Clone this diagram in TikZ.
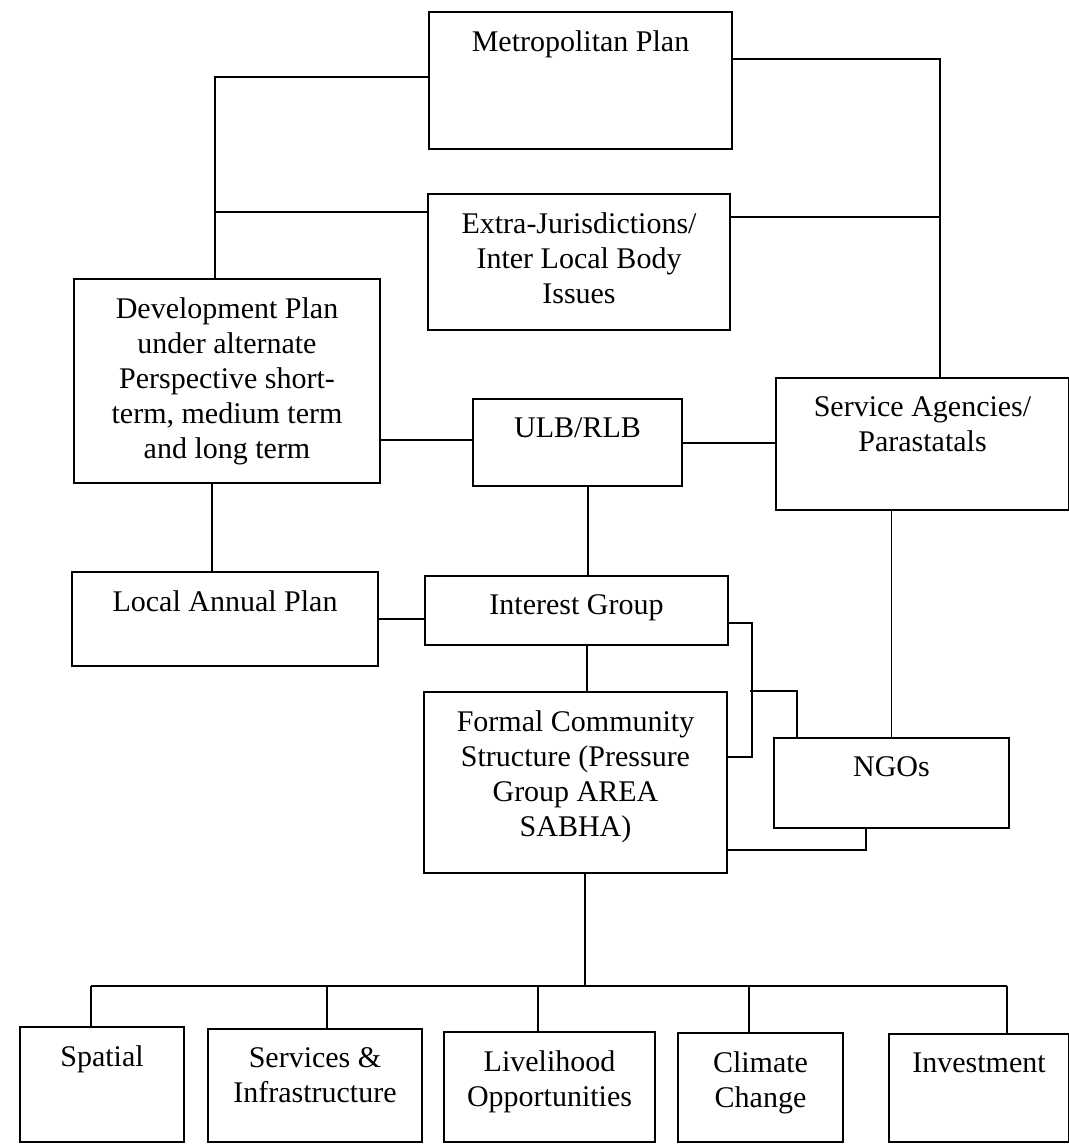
\documentclass[tikz,border=0pt]{standalone}
\usepackage{fontspec}
\setmainfont{Liberation Serif}
\usetikzlibrary{positioning}

\tikzset{
  box/.style={draw, line width=1pt, anchor=north west, inner sep=0pt},
  txt/.style={anchor=north, align=center, inner sep=0pt, yshift=-9.5pt},
  link/.style={line width=0.75pt}
}

\begin{document}
\begin{tikzpicture}[x=0.5pt, y=-0.5pt, font=\fontsize{15}{17.5}\selectfont]
        \useasboundingbox (0,0) rectangle (1069,1145);

        % upper tier
        \node[box, minimum width=151.5pt, minimum height=68.5pt, label={[txt]north:{Metropolitan Plan}}] (metro) at (428,11) {};
        \node[box, minimum width=151pt, minimum height=68pt, label={[txt]north:{Extra-Jurisdictions/\\Inter Local Body\\Issues}}] (extra) at (427,193) {};
        \node[box, minimum width=153pt, minimum height=102pt, label={[txt]north:{Development Plan\\under alternate\\Perspective short-\\term, medium term\\and long term}}] (dev) at (73,278) {};
        \node[box, minimum width=104.5pt, minimum height=43.5pt, label={[txt]north:{ULB/RLB}}] (ulb) at (472,398) {};
        \node[box, minimum width=146.5pt, minimum height=66pt, label={[txt]north:{Service Agencies/\\Parastatals}}] (svc) at (775,377) {};

        % middle tier
        \node[box, minimum width=153pt, minimum height=47pt, label={[txt]north:{Local Annual Plan}}] (local) at (71,571) {};
        \node[box, minimum width=151.5pt, minimum height=34.5pt, label={[txt]north:{Interest Group}}] (interest) at (424,575) {};
        \node[box, minimum width=151.5pt, minimum height=90.5pt, label={[txt]north:{Formal Community\\Structure (Pressure\\Group AREA\\SABHA)}}] (formal) at (423,691) {};
        \node[box, minimum width=117.5pt, minimum height=45pt, label={[txt]north:{NGOs}}] (ngo) at (773,737) {};

        % bottom row
        \node[box, minimum width=82pt, minimum height=57.5pt, label={[txt]north:{Spatial}}] (spatial) at (19,1026) {};
        \node[box, minimum width=107pt, minimum height=56.5pt, label={[txt]north:{Services \&\\Infrastructure}}] (services) at (207,1028) {};
        \node[box, minimum width=105.5pt, minimum height=55pt, label={[txt]north:{Livelihood\\Opportunities}}] (livelihood) at (443,1031) {};
        \node[box, minimum width=82.5pt, minimum height=54.5pt, label={[txt]north:{Climate\\Change}}] (climate) at (677,1032) {};
        \node[box, minimum width=90pt, minimum height=54pt, label={[txt]north:{Investment}}] (invest) at (888,1033) {};

        % junction points
        \coordinate (devin) at (dev.north -| 215,0);
        \coordinate (devout) at (dev.south -| 212,0);
        \coordinate (svcin) at (svc.north -| 940,0);
        \coordinate (brk) at (formal.north -| 750,0);
        \coordinate (bus) at (585,986);

        % left and right spines
        \draw[link] (metro.west |- 0,77) -| (devin);
        \draw[link] (extra.west |- 0,212) -- (devin |- 0,212);
        \draw[link] (metro.east |- 0,59) -| (svcin);
        \draw[link] (extra.east |- 0,217) -- (svcin |- 0,217);

        % horizontal ties
        \draw[link] (dev.east |- 0,440) -- (ulb.west |- 0,440);
        \draw[link] (ulb.east |- 0,443) -- (svc.west |- 0,443);
        \draw[link] (local.east |- 0,619) -- (interest.west |- 0,619);

        % vertical ties
        \draw[link] (devout) -- (devout |- local.north);
        \draw[link] (ulb.south -| 588,0) -- (interest.north -| 588,0);
        \draw[link] (interest.south -| 587,0) -- (formal.north -| 587,0);
        \draw[link] (svc.south -| ngo.north) -- (ngo.north);

        % brackets round the community structure
        \draw[link] (interest.east |- 0,623) -- ++(23,0) |- (formal.east |- 0,757);
        \draw[link] (brk) -| (ngo.north -| 797,0);
        \draw[link] (ngo.south -| 866,0) |- (formal.east |- 0,850);

        % bus to bottom row
        \draw[link] (formal.south -| bus) -- (bus);
        \draw[link] (bus -| 91,0) -- (bus -| 1007,0);
        \foreach \n/\x in {spatial/91, services/327, livelihood/538, climate/749, invest/1007}
            \draw[link] (bus -| \x,0) -- (\n.north -| \x,0);
\end{tikzpicture}
\end{document}
